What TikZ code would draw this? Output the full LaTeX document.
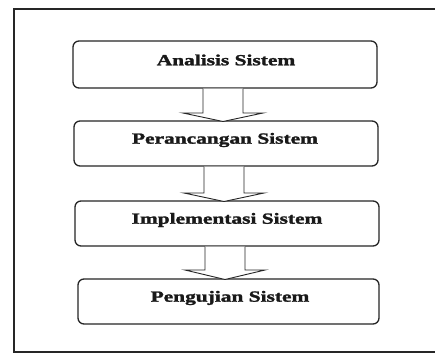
\documentclass[tikz,border=0pt]{standalone}
\usepackage{fontspec}
\setmainfont{Liberation Serif}
\newfontfamily\lblfont[FakeBold=1.5]{Liberation Serif Bold}
\usepackage{graphicx}
\begin{document}
\begin{tikzpicture}[x=1pt,y=-1pt,
  stepbox/.style={draw=black!85, line width=1.3pt, rounded corners=6pt, fill=white},
  lbl/.style={font=\fontsize{15.5}{18}\lblfont, text=black!90},
  blockarrow/.style={draw=black!85, line width=0.9pt, fill=white, line join=miter}]
\useasboundingbox (0,0) rectangle (435,356);
\fill[white] (0,0) rectangle (435,356);
% outer frame (runs off the right edge)
\draw[line width=2pt, black!85] (435,9) -- (14,9) -- (14,352) -- (435,352);
% boxes
\draw[stepbox] (73,41) rectangle (377,88);
\draw[stepbox] (74,121) rectangle (378,166);
\draw[stepbox] (75,201) rectangle (379,246);
\draw[stepbox] (78,279) rectangle (379,324);
\node[lbl] (a) at (226,60) {\scalebox{1.38}[1]{Analisis Sistem}};
\node[lbl] (b) at (225,140) {\scalebox{1.38}[1]{Perancangan Sistem}};
\node[lbl] (c) at (227,220) {\scalebox{1.38}[1]{Implementasi Sistem}};
\node[lbl] (d) at (230,298) {\scalebox{1.38}[1]{Pengujian Sistem}};
% block arrows
\draw[blockarrow] (203,88.6) -- (203,113) -- (183,113) -- (223,121.5) -- (263,113) -- (243,113) -- (243,88.6);
\draw[blockarrow] (204,166.6) -- (204,193) -- (184,193) -- (224,201.5) -- (264,193) -- (244,193) -- (244,166.6);
\draw[blockarrow] (205,246.6) -- (205,270) -- (185,270) -- (225,279.5) -- (265,270) -- (245,270) -- (245,246.6);
\end{tikzpicture}
\end{document}
